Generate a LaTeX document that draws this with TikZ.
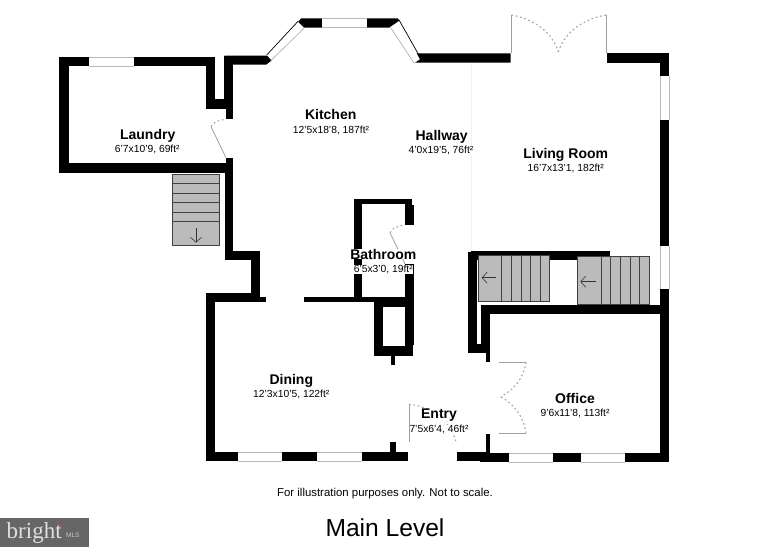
\documentclass[tikz,border=0pt]{standalone}
\usepackage{fontspec}
\setmainfont{Liberation Sans}
\newfontfamily\logofont{Liberation Serif}
\usetikzlibrary{arrows.meta}
\definecolor{treadgray}{RGB}{187,187,187}
\definecolor{logogray}{RGB}{102,102,102}
\tikzset{
  wall/.style={fill=black,draw=none},
  glass/.style={fill=white,draw=none},
  glassedge/.style={draw=gray!55,line width=0.8pt},
  leaf/.style={draw=gray!75,line width=0.8pt},
  swing/.style={draw=gray!70,line width=1.1pt,dash pattern=on 1.8pt off 2.6pt},
  stairs/.style={fill=treadgray,draw=black!75,line width=0.6pt},
  tread/.style={draw=black!75,line width=0.6pt},
  walkdir/.style={draw=black!80,line width=0.6pt,-{Straight Barb[length=5pt,width=11pt]}},
  roomname/.style={font=\fontsize{14}{14}\selectfont\bfseries,fill=white,inner sep=0pt,anchor=base},
  roomsize/.style={font=\fontsize{10.3}{10.3}\selectfont,fill=white,inner sep=0pt,anchor=base},
}
\begin{document}
\begin{tikzpicture}[x=1pt,y=-1pt]
    \useasboundingbox (0,0) rectangle (783,547);

    \draw[draw=gray!10,line width=0.6pt] (471.7,62.7) -- (471.7,250.7);

    \draw[wall] (59.3,57) rectangle (215.3,66);
    \draw[wall] (59.3,57) rectangle (68.7,172.7);
    \draw[wall] (59.3,163.3) rectangle (233.3,172.7);
    \draw[wall] (206,57) rectangle (215.3,108.7);
    \draw[wall] (206,99.3) rectangle (233.3,108.7);
    \draw[wall] (224.3,55.7) rectangle (233.3,108.7);
    \draw[wall] (226,100) rectangle (233.3,119.3);
    \draw[wall] (224.3,55.7) -- (267,55.7) -- (271.7,60.5) -- (266,64.7) -- (224.3,64.7) -- cycle;
    \draw[wall] (226,157.7) rectangle (233.3,172.7);
    \draw[wall] (224.7,165) rectangle (233.3,260.3);
    \draw[wall] (224.7,251) rectangle (260,260.3);
    \draw[wall] (250.7,251) rectangle (260,301.7);

    \draw[wall] (298.3,22) -- (301,18.3) -- (397.7,18.3) -- (399.5,20.5) -- (389,27.7) -- (304,27.7) -- cycle;
    \draw[wall] (416.7,53.3) -- (510.7,53.3) -- (510.7,62.7) -- (415,62.7) -- (420,59.3) -- cycle;
    \draw[wall] (607,53.3) rectangle (669.3,62.7);
    \draw[wall] (660,53.3) rectangle (669.3,462.3);

    \draw[wall] (206,293.3) rectangle (215.3,461);
    \draw[wall] (206,293.3) rectangle (260,302);
    \draw[wall] (255,297) rectangle (266,301.7);
    \draw[wall] (304.3,297) rectangle (374,301.7);
    \draw[wall] (206,452) rectangle (408.3,461);
    \draw[wall] (390,442.3) rectangle (396,452);

    \draw[wall] (354,199.3) rectangle (412.3,204);
    \draw[wall] (354,199.3) rectangle (362,301.7);
    \draw[wall] (405,199.3) rectangle (412.3,225.3);
    \draw[wall] (405,205) rectangle (414,225.3);
    \draw[wall] (405,264) rectangle (414,345);

    \draw[wall] (374,297.3) rectangle (414,306.7);
    \draw[wall] (374,297.3) rectangle (383.3,355.7);
    \draw[wall] (374,345.7) rectangle (413.3,355.7);
    \draw[wall] (405,340) rectangle (413.3,355.7);
    \draw[wall] (390.7,355) rectangle (395,365);

    \draw[wall] (471,250.7) rectangle (610,257);
    \draw[wall] (476.7,250.7) rectangle (577.3,260);
    \draw[wall] (467.7,252.3) rectangle (476.7,353.3);
    \draw[wall] (467.7,344.3) rectangle (490,353.3);
    \draw[wall] (480.7,305) rectangle (490,353.3);
    \draw[wall] (480.7,305) rectangle (669.3,314.3);
    \draw[wall] (486,350) rectangle (490,361.7);
    \draw[wall] (486,434) rectangle (490,453.3);
    \draw[wall] (457.3,452.3) rectangle (488.3,461);
    \draw[wall] (480,453.3) rectangle (669.3,462.3);

    \draw[glass] (89.3,57) rectangle (134,66);
    \draw[glassedge] (89.3,57) -- (134,57) (89.3,66) -- (134,66);
    \draw[glass] (322.3,18.3) rectangle (366.7,27.7);
    \draw[glassedge] (322.3,18.3) -- (366.7,18.3) (322.3,27.7) -- (366.7,27.7);
    \draw[glass] (237.7,452) rectangle (281.7,461);
    \draw[glassedge] (237.7,452) -- (281.7,452) (237.7,461) -- (281.7,461);
    \draw[glass] (317.3,452) rectangle (362,461);
    \draw[glassedge] (317.3,452) -- (362,452) (317.3,461) -- (362,461);
    \draw[glass] (509,453.3) rectangle (553.3,462.3);
    \draw[glassedge] (509,453.3) -- (553.3,453.3) (509,462.3) -- (553.3,462.3);
    \draw[glass] (581,453.3) rectangle (625.3,462.3);
    \draw[glassedge] (581,453.3) -- (625.3,453.3) (581,462.3) -- (625.3,462.3);
    \draw[glass] (660,76) rectangle (669.3,120);
    \draw[glassedge] (660,76) -- (660,120) (669.3,76) -- (669.3,120);
    \draw[glass] (660,245.7) rectangle (669.3,289.3);
    \draw[glassedge] (660,245.7) -- (660,289.3) (669.3,245.7) -- (669.3,289.3);

    \draw[draw=black,line width=0.7pt] (266.7,55) -- (298.3,21);
    \draw[glassedge] (270.7,60.7) -- (304,28.3);
    \draw[draw=black,line width=0.7pt] (399,20) -- (420,57);
    \draw[glassedge] (390.7,27.7) -- (414,63);

    \draw[leaf] (226,157.7) -- (211,126.7);
    \draw[swing] (211,126.7) .. controls (213,122) and (219,120) .. (226,119.3);
    \draw[leaf] (405,264) -- (390,232.7);
    \draw[swing] (390,232.7) .. controls (392,228) and (398,225.5) .. (405,225.3);
    \draw[leaf] (511.3,15) -- (511.3,53.3);
    \draw[leaf] (606,15) -- (606,53.3);
    \draw[swing] (511.3,15) .. controls (530,18) and (552,30) .. (558.3,52);
    \draw[swing] (606,15) .. controls (587,18) and (565,30) .. (558.3,52);
    \draw[leaf] (499.3,362) -- (526,362);
    \draw[leaf] (499.3,433.3) -- (526,433.3);
    \draw[swing] (526,362) .. controls (524,378) and (514,390) .. (500.7,396.7);
    \draw[swing] (526,433.3) .. controls (524,417) and (514,404) .. (500.7,396.7);
    \draw[leaf] (409,404.3) -- (409,441.7);
    \draw[swing] (409,404.3) .. controls (430,406) and (450,420) .. (456,441.7);

    \draw[stairs] (172,174) rectangle (219.7,245.7);
    \draw[tread] (172,183.3) -- (219.7,183.3);
    \draw[tread] (172,193) -- (219.7,193);
    \draw[tread] (172,202.3) -- (219.7,202.3);
    \draw[tread] (172,212) -- (219.7,212);
    \draw[tread] (172,221.7) -- (219.7,221.7);
    \draw[walkdir] (196,228.3) -- (196,242.7);

    \draw[stairs] (478.3,255) rectangle (549.3,301.7);
    \draw[tread] (501.7,255) -- (501.7,301.7);
    \draw[tread] (511.3,255) -- (511.3,301.7);
    \draw[tread] (521,255) -- (521,301.7);
    \draw[tread] (530.7,255) -- (530.7,301.7);
    \draw[tread] (540.3,255) -- (540.3,301.7);
    \draw[walkdir] (496,277.7) -- (481.7,277.7);

    \draw[stairs] (577.3,256.7) rectangle (649,304.5);
    \draw[tread] (601,256.7) -- (601,304.5);
    \draw[tread] (610.7,256.7) -- (610.7,304.5);
    \draw[tread] (620.3,256.7) -- (620.3,304.5);
    \draw[tread] (630,256.7) -- (630,304.5);
    \draw[tread] (639.7,256.7) -- (639.7,304.5);
    \draw[walkdir] (595.7,281.7) -- (580.3,281.7);

    \node[roomname] (kitchen) at (330.7,119.3) {Kitchen};
    \node[roomsize] (kitchensize) at (331,133.3) {12'5x18'8, 187ft²};
    \node[roomname] (laundry) at (147.7,139.3) {Laundry};
    \node[roomsize] (laundrysize) at (147.3,152.7) {6'7x10'9, 69ft²};
    \node[roomname] (hallway) at (441.7,140) {Hallway};
    \node[roomsize] (hallwaysize) at (441,153.7) {4'0x19'5, 76ft²};
    \node[roomname] (living) at (565.7,158) {Living Room};
    \node[roomsize] (livingsize) at (565.7,171.7) {16'7x13'1, 182ft²};
    \node[roomname] (bathroom) at (383.3,259) {Bathroom};
    \node[roomsize] (bathroomsize) at (383.3,272.7) {6'5x3'0, 19ft²};
    \node[roomname] (dining) at (291.3,384) {Dining};
    \node[roomsize] (diningsize) at (291.3,397.3) {12'3x10'5, 122ft²};
    \node[roomname] (entry) at (439,418.7) {Entry};
    \node[roomsize] (entrysize) at (439,432) {7'5x6'4, 46ft²};
    \node[roomname] (office) at (575,403.3) {Office};
    \node[roomsize] (officesize) at (575,416.7) {9'6x11'8, 113ft²};

    \node[font=\fontsize{11.4}{11.4}\selectfont,inner sep=0pt,anchor=base] (disclaimer) at (385,496) {For illustration purposes only. Not to scale.};
    \node[font=\fontsize{24.6}{24.6}\selectfont,inner sep=0pt,anchor=base] (level) at (385,536) {Main Level};

    \draw[fill=logogray,draw=none] (0,518) rectangle (89,547);
    \node[font=\logofont\fontsize{23}{23}\selectfont,text=white!80!logogray,inner sep=0pt,anchor=base west] (brand) at (6.5,538.5) {bright};
    \node[font=\fontsize{6.5}{6.5}\selectfont,text=white!65!logogray,inner sep=0pt,anchor=base west] (mls) at (66,537) {MLS};
    \draw[fill=red!60!orange,draw=none] (60.5,524.5) circle (1.2);
\end{tikzpicture}
\end{document}
